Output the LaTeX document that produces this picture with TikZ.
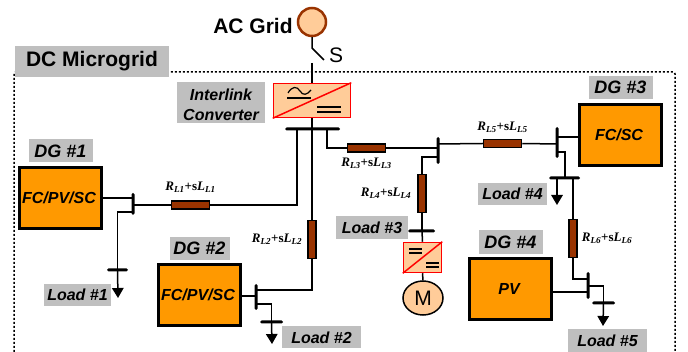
\documentclass[tikz,border=0pt]{standalone}
\usepackage{fontspec}
\setmainfont{Liberation Sans}
\newfontfamily\rlfont{Liberation Serif}
\usetikzlibrary{positioning, arrows.meta, shapes.geometric}

\definecolor{dgfill}{HTML}{FF9900}
\definecolor{peach}{HTML}{FFCC99}
\definecolor{rlbrown}{HTML}{993300}
\definecolor{tag}{HTML}{BFBFBF}

\newcommand{\fsize}[1]{\fontsize{#1}{#1}\selectfont}
\newcommand{\rlabel}[1]{{\rlfont\bfseries\fsize{13}\textit{R}\textsubscript{\textit{L#1}}+s\textit{L}\textsubscript{\textit{L#1}}}}

\tikzset{
    wire/.style={line width=1.5pt},
    load/.style={wire, -{Triangle[width=11.5pt,length=10pt]}},
    dgbox/.style={draw, fill=dgfill, line width=3pt, inner sep=0pt, minimum width=82pt, minimum height=61pt, font=\bfseries\itshape\fsize{16}, execute at end node=\hspace*{3pt}},
    gtag/.style={fill=tag, inner sep=0pt, font=\bfseries\itshape\fsize{16}},
    dgtag/.style={gtag, minimum width=64pt, minimum height=23pt, font=\bfseries\itshape\fsize{18}},
    loadtag/.style={gtag, minimum height=22pt},
    resh/.style={draw, fill=rlbrown, line width=1.5pt, inner sep=0pt, minimum width=38pt, minimum height=8pt},
    resv/.style={draw, fill=rlbrown, line width=1.5pt, inner sep=0pt, minimum width=8pt, minimum height=38pt},
    hbus/.style={fill, rounded corners=1.5pt, inner sep=0pt, minimum height=3pt},
    vbus/.style={fill, rounded corners=1.5pt, inner sep=0pt, minimum width=3pt},
    conv/.style={draw=red, fill=peach, line width=1.5pt, inner sep=0pt},
    rlab/.style={inner sep=0pt},
}

\begin{document}
\begin{tikzpicture}[x=1pt, y=-1pt, on grid]
    \useasboundingbox (0,0) rectangle (688,352);

    % microgrid frame
    \draw[line width=1.5pt, dash pattern=on 2pt off 2pt, rounded corners=2pt]
        (14,352) -- (14,72) -- (675,72) -- (675,352);
    \node[gtag, minimum width=154pt, minimum height=31pt, font=\bfseries\fsize{21}] (mgtag) at (92,61.5) {DC Microgrid};

    % grid and interlink
    \node[circle, draw=rlbrown, fill=peach, line width=2.5pt, inner sep=0pt, minimum size=28pt] (grid) at (312,22) {};
    \node[font=\bfseries\fsize{21}, inner sep=0pt] (gridtag) at (253,26) {AC Grid};
    \node[font=\fsize{21}, inner sep=0pt] (stag) at (336,55) {S};
    \node[conv, minimum width=77pt, minimum height=34pt] (conv1) at (312,100.5) {};
    \node[gtag, minimum width=88pt, minimum height=41pt, align=center] (convtag) at (221,102.5) {\rule{0pt}{16pt}Interlink\\[4pt]Converter};
    \node[hbus, minimum width=55pt] (bus1) at (312.5,129) {};
    \coordinate (sw1) at (312,48);
    \coordinate (sw2) at (324,60);
    \coordinate (sw3) at (312,63);
    \coordinate (tap1) at (297,129);
    \coordinate (tap2) at (312,129);
    \coordinate (tap3) at (327,129);
    \draw[wire] (grid.south) -- (sw1) -- (sw2);
    \draw[wire] (sw3) -- (conv1.north);
    \draw[wire] (conv1.south) -- (tap2);
    \draw[red, line width=1.5pt] (conv1.south west) -- (conv1.north east);
    \draw[line width=1.2pt] (287,98) -- (311,98);
    \draw[line width=1.2pt] (288,93) .. controls (292,86) and (297,86) .. (300,91) .. controls (303,96) and (307,95) .. (311,90);
    \draw[line width=1.2pt] (317,107) -- (341,107);
    \draw[line width=1.2pt] (317,112) -- (341,112);

    % DG 1
    \node[dgbox] (dg1) at (60.5,198) {FC/PV/SC};
    \node[dgtag] (dg1tag) [above=47pt of dg1] {DG \#1};
    \node[vbus, minimum height=22pt] (bus2) at (133,204) {};
    \node[resh] (rl1) at (190.5,205) {};
    \node[rlab] (rl1tag) [above=18pt of rl1] {\rlabel{1}};
    \node[hbus, minimum width=21pt] (load1) at (117.5,270) {};
    \node[loadtag, minimum width=67pt] (load1tag) at (77.5,295) {Load \#1};
    \coordinate (l1a) at (133,198);
    \coordinate (l1b) at (133,205);
    \coordinate (l1c) at (133,212);
    \coordinate (l1d) at (118,298);
    \draw[wire] (dg1.east |- l1a) -- (l1a);
    \draw[wire] (l1b) -- (rl1.west);
    \draw[wire] (rl1.east) -| (tap1);
    \draw[wire] (l1c) -| (load1.center);
    \draw[load] (load1.center) -- (l1d);

    % DG 2
    \node[dgbox] (dg2) at (199.5,295) {FC/PV/SC};
    \node[dgtag, minimum width=60pt] (dg2tag) [above=46.5pt of dg2] {DG \#2};
    \node[vbus, minimum height=26pt] (bus3) at (256,297) {};
    \node[resv] (rl2) at (312,239.5) {};
    \node[rlab] (rl2tag) [left=35pt of rl2] {\rlabel{2}};
    \node[hbus, minimum width=23pt] (load2) at (271.5,322) {};
    \node[loadtag, minimum width=79pt] (load2tag) at (321.5,337.5) {Load \#2};
    \coordinate (l2a) at (256,296);
    \coordinate (l2b) at (256,290);
    \coordinate (l2c) at (256,304);
    \coordinate (l2d) at (272,344);
    \draw[wire] (dg2.east |- l2a) -- (l2a);
    \draw[wire] (tap2) -- (rl2.north);
    \draw[wire] (rl2.south) |- (l2b);
    \draw[wire] (l2c) -| (load2.center);
    \draw[load] (load2.center) -- (l2d);

    % load 3 and motor
    \node[vbus, minimum height=27pt] (bus4) at (438,150.5) {};
    \node[resh] (rl3) at (366.5,148) {};
    \node[rlab] (rl3tag) [below=15pt of rl3] {\rlabel{3}};
    \node[resv] (rl4) at (422,193.5) {};
    \node[rlab] (rl4tag) [left=36pt of rl4] {\rlabel{4}};
    \node[hbus, minimum width=27pt] (load3) at (421.5,231) {};
    \node[loadtag, minimum width=72pt, minimum height=23pt] (load3tag) at (372,227.5) {Load \#3};
    \node[conv, minimum width=38pt, minimum height=30pt] (conv2) at (422.5,257.5) {};
    \node[ellipse, draw, fill=peach, line width=1.5pt, inner sep=0pt, minimum width=40pt, minimum height=34pt, font=\fsize{21}] (motor) at (423,298) {M};
    \coordinate (l3a) at (438,148);
    \coordinate (l3b) at (438,157);
    \coordinate (l3c) at (422,231);
    \draw[wire] (tap3) |- (rl3.west);
    \draw[wire] (rl3.east) -- (l3a);
    \draw[wire] (l3b) -| (rl4.north);
    \draw[wire] (rl4.south) -- (l3c);
    \draw[wire] (l3c) -- (conv2.north);
    \draw[wire] (conv2.south) -- (motor.north);
    \draw[red, line width=1.5pt] (conv2.south west) -- (conv2.north east);
    \draw[line width=1.2pt] (409,249) -- (422,249);
    \draw[line width=1.2pt] (409,253) -- (422,253);
    \draw[line width=1.2pt] (426,263) -- (439,263);
    \draw[line width=1.2pt] (426,267) -- (439,267);

    % DG 3
    \node[dgbox] (dg3) at (620.5,135) {FC/SC};
    \node[dgtag] (dg3tag) [above=47.5pt of dg3] {DG \#3};
    \node[vbus, minimum height=31pt] (bus5) at (557,142.5) {};
    \node[resh] (rl5) at (502.5,143.5) {};
    \node[rlab] (rl5tag) [above=16pt of rl5] {\rlabel{5}};
    \node[hbus, minimum width=31pt] (load4) at (564.5,178) {};
    \node[loadtag, minimum width=69pt] (load4tag) at (512.5,194) {Load \#4};
    \coordinate (l5a) at (438,144);
    \coordinate (l5b) at (557,144);
    \coordinate (l5c) at (557,137);
    \coordinate (l5d) at (557,152);
    \coordinate (l5e) at (565,178);
    \coordinate (l5f) at (557,178);
    \coordinate (l5g) at (557,205);
    \coordinate (l5h) at (573,178);
    \draw[wire] (l5a) -- (rl5.west);
    \draw[wire] (rl5.east) -- (l5b);
    \draw[wire] (dg3.west |- l5c) -- (l5c);
    \draw[wire] (l5d) -| (l5e);
    \draw[load] (l5f) -- (l5g);

    % DG 4
    \node[dgbox] (dg4) at (510.5,289) {PV};
    \node[dgtag, minimum height=24pt] (dg4tag) [above=47pt of dg4] {DG \#4};
    \node[vbus, minimum height=27pt] (bus6) at (588,285.5) {};
    \node[resv] (rl6) at (573,238.5) {};
    \node[rlab] (rl6tag) [right=34pt of rl6] {\rlabel{6}};
    \node[hbus, minimum width=23pt] (load5) at (603.5,303) {};
    \node[loadtag, minimum width=79pt, minimum height=23pt] (load5tag) at (607.5,340.5) {Load \#5};
    \coordinate (l6a) at (588,279);
    \coordinate (l6b) at (588,292);
    \coordinate (l6c) at (588,286);
    \coordinate (l6d) at (603,326);
    \draw[wire] (l5h) -- (rl6.north);
    \draw[wire] (rl6.south) |- (l6a);
    \draw[wire] (dg4.east |- l6b) -- (l6b);
    \draw[wire] (l6c) -| (load5.center);
    \draw[load] (load5.center) -- (l6d);
\end{tikzpicture}
\end{document}
